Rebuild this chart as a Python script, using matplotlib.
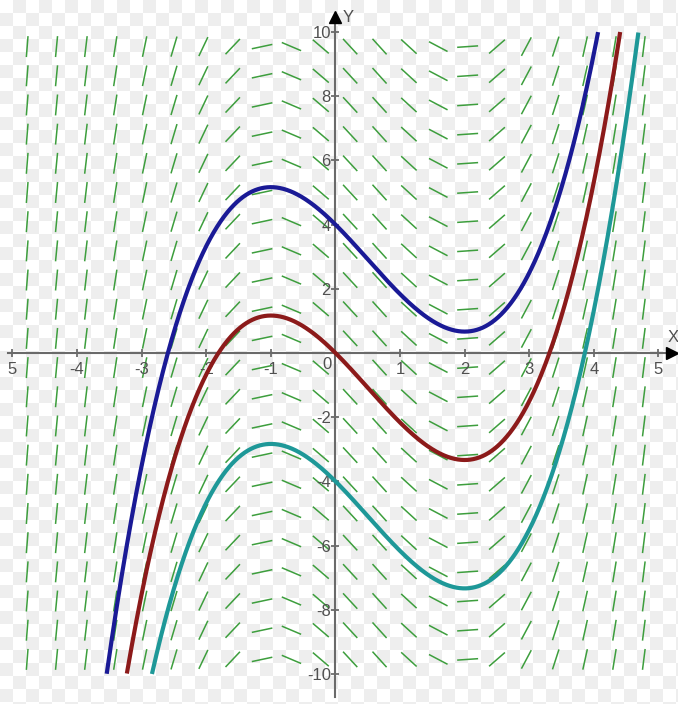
import numpy as np
import matplotlib
matplotlib.use("Agg")
import matplotlib.pyplot as plt
from matplotlib.collections import LineCollection

# ---------------- data ----------------
slope_coeffs = [1.0, -1.0, -2.0]          # dy/dx = x^2 - x - 2
curve_offsets = [4.0, 0.0, -4.0]          # solution curves y = F(x) + C
curve_colors = ["#1a1a96", "#8c1a1a", "#1e9898"]
x_ticks = [-5, -4, -3, -2, -1, 1, 2, 3, 4, 5]
x_tick_labels = ["5", "-4", "-3", "-2", "-1", "1", "2", "3", "4", "5"]
y_ticks = [-10, -8, -6, -4, -2, 2, 4, 6, 8, 10]
y_tick_labels = ["-10", "-8", "-6", "-4", "-2", "2", "4", "6", "8", "10"]
field_cols = 22
field_rows = 22
x_range = (-5.0, 5.0)
y_range = (-10.0, 10.0)

# ---------------- figure ----------------
W, H = 678, 704
fig = plt.figure(figsize=(W / 100, H / 100), dpi=100)
fig.patch.set_facecolor("white")

# faint checkerboard background
sq = 13
ii, jj = np.mgrid[0:H, 0:W]
chk = ((ii // sq + jj // sq) % 2).astype(float)
bg = np.where(chk > 0, 238, 255).astype(np.uint8)
img = np.dstack([bg, bg, bg])
fig.figimage(img, xo=0, yo=0, origin="upper", zorder=-10)

ax = fig.add_axes([0, 0, 1, 1])
ax.set_zorder(1)
ax.patch.set_visible(False)
xlim = (-5.1935, 5.302)
ylim = (-10.935, 10.997)
ax.set_xlim(*xlim)
ax.set_ylim(*ylim)
sx = W / (xlim[1] - xlim[0])
sy = H / (ylim[1] - ylim[0])

def px2x(p):
    return xlim[0] + p / sx

def px2y(p):
    return ylim[1] - p / sy

# ---------------- slope field ----------------
gx = x_range[0] + (np.arange(field_cols) + 0.5) * (x_range[1] - x_range[0]) / field_cols
gy = y_range[0] + (np.arange(field_rows) + 0.5) * (y_range[1] - y_range[0]) / field_rows
X, Y = np.meshgrid(gx, gy)
M = np.polyval(slope_coeffs, X)
ux, uy = sx * np.ones_like(M), M * sy
nrm = np.hypot(ux, uy)
half = 10.5
dx = ux / nrm * half / sx
dy = uy / nrm * half / sy
segs = np.stack([np.stack([X - dx, Y - dy], -1), np.stack([X + dx, Y + dy], -1)], axis=2).reshape(-1, 2, 2)
ax.add_collection(LineCollection(segs, colors="#3d9e3d", linewidths=1.1, zorder=1))

# ---------------- solution curves ----------------
F = np.polyint(slope_coeffs)
xs = np.linspace(x_range[0], x_range[1], 6000)
for c, col in zip(curve_offsets, curve_colors):
    ys = np.polyval(F, xs) + c
    m = (ys >= y_range[0]) & (ys <= y_range[1])
    ax.plot(xs[m], ys[m], color=col, lw=3.0, solid_capstyle="butt", zorder=4)

# ---------------- axes ----------------
for s in ["top", "right"]:
    ax.spines[s].set_visible(False)
ax.spines["bottom"].set_position(("data", 0))
ax.spines["left"].set_position(("data", 0))
for s in ["bottom", "left"]:
    ax.spines[s].set_color("#6a6a6a")
    ax.spines[s].set_linewidth(1.5)
    ax.spines[s].set_zorder(3)
ax.spines["bottom"].set_bounds(px2x(8), px2x(668))
ax.spines["left"].set_bounds(px2y(697), px2y(20))

ax.set_xticks(x_ticks)
ax.set_xticklabels(x_tick_labels)
ax.set_yticks(y_ticks)
ax.set_yticklabels(y_tick_labels)
font = "Liberation Sans"
ax.tick_params(axis="both", direction="inout", length=6, width=1.1, color="#555555",
               labelsize=12, labelcolor="#505050")
ax.tick_params(axis="x", pad=3.2)
ax.tick_params(axis="y", pad=0.4)
for lab in ax.get_xticklabels() + ax.get_yticklabels():
    lab.set_fontfamily(font)

ax.text(px2x(332), px2y(357), "0", ha="right", va="top", fontsize=12,
        color="#505050", family=font)

# arrow heads
ax.plot([px2x(671.5)], [0], marker=">", ms=9, color="black", clip_on=False, zorder=5)
ax.plot([0], [px2y(17.5)], marker="^", ms=9, color="black", clip_on=False, zorder=5)
ax.text(px2x(673), px2y(337), "X", ha="center", va="center", fontsize=12,
        color="#505050", family=font)
ax.text(px2x(348), px2y(17), "Y", ha="center", va="center", fontsize=12,
        color="#505050", family=font)

fig.savefig("out.png", dpi=100)
